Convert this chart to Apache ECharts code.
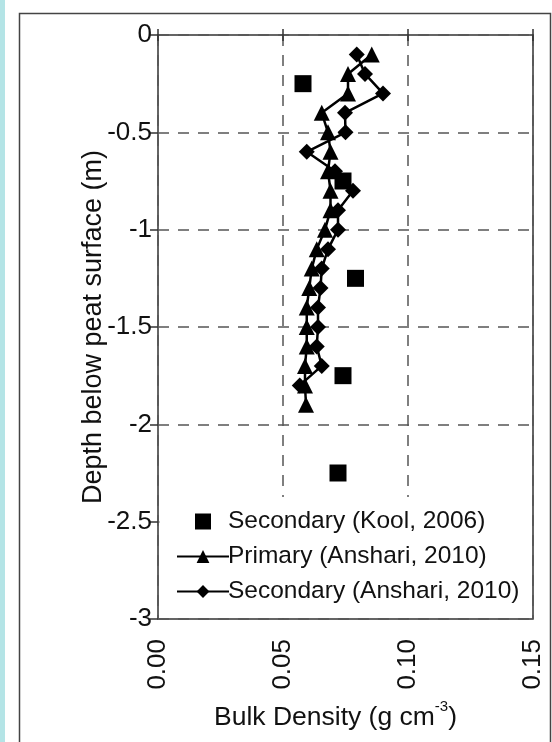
<!DOCTYPE html>
<html>
<head>
<meta charset="utf-8">
<script src="https://cdn.jsdelivr.net/npm/echarts@6/dist/echarts.min.js"></script>
<style>
html,body{margin:0;padding:0;background:#fff;}
#chart{width:552px;height:742px;}
</style>
</head>
<body>
<div id="chart"></div>
<script>
// Secondary (Kool, 2006)
const koolDepth = [-0.25, -0.75, -1.25, -1.75, -2.25];
const koolDensity = [0.058, 0.074, 0.079, 0.074, 0.072];
// Primary (Anshari, 2010)
const primaryDepth = [-0.1,-0.2,-0.3,-0.4,-0.5,-0.6,-0.7,-0.8,-0.9,-1.0,-1.1,-1.2,-1.3,-1.4,-1.5,-1.6,-1.7,-1.8,-1.9];
const primaryDensity = [0.0855,0.076,0.076,0.0655,0.068,0.069,0.068,0.069,0.069,0.0668,0.0635,0.0615,0.0605,0.0595,0.0595,0.0595,0.0588,0.0588,0.0592];
// Secondary (Anshari, 2010)
const secondaryDepth = [-0.1,-0.2,-0.3,-0.4,-0.5,-0.6,-0.7,-0.8,-0.9,-1.0,-1.1,-1.2,-1.3,-1.4,-1.5,-1.6,-1.7,-1.8];
const secondaryDensity = [0.0795,0.0828,0.090,0.0748,0.075,0.0595,0.0708,0.078,0.072,0.072,0.068,0.0655,0.065,0.064,0.064,0.0635,0.0655,0.0567];
const seriesNames = ['Secondary (Kool, 2006)', 'Primary (Anshari, 2010)', 'Secondary (Anshari, 2010)'];

const pair = (xs, ys) => xs.map((x, i) => [x, ys[i]]);
const FONT = 'Liberation Sans, Arial, sans-serif';
const TICK = {color: '#333', width: 1.5};
const GRIDLINE = {color: '#555', type: [11, 9], width: 1.5};

const chart = echarts.init(document.getElementById('chart'), null, {renderer: 'canvas'});
chart.setOption({
  backgroundColor: '#fff',
  animation: false,
  graphic: [
    {type: 'rect', shape: {x: 0, y: 0, width: 5, height: 742}, style: {fill: '#b4e4e6'}, z: 0},
    {type: 'rect', shape: {x: 19.5, y: 13.5, width: 531, height: 740}, style: {fill: 'none', stroke: '#444', lineWidth: 1.5}, z: 0},
    // white area behind the legend (hides the grid lines there)
    {type: 'rect', shape: {x: 159.5, y: 497, width: 372.5, height: 121}, style: {fill: '#fff'}, z: 1}
  ],
  grid: {left: 158, right: 19, top: 35, bottom: 123, show: true, borderColor: '#333', borderWidth: 1.5, backgroundColor: 'transparent'},
  legend: {
    orient: 'vertical',
    left: 171,
    top: 504,
    itemWidth: 52,
    itemHeight: 16,
    itemGap: 10,
    z: 6,
    textStyle: {fontFamily: FONT, fontSize: 24.5, color: '#111', padding: [0,0,0,-6]},
    data: [
      {name: seriesNames[0], icon: 'path://M0,0L10,0L10,10L0,10Z'},
      {name: seriesNames[1]},
      {name: seriesNames[2]}
    ]
  },
  xAxis: [{
    // labels, ticks and title
    type: 'value', min: 0, max: 0.15, interval: 0.05, position: 'bottom', z: 5,
    axisLine: {show: false},
    axisTick: {show: true, inside: true, length: 6, lineStyle: TICK},
    splitLine: {show: false},
    axisLabel: {rotate: 90, margin: 20, fontFamily: FONT, fontSize: 26, color: '#111',
      formatter: v => v.toFixed(2)},
    name: '{a|Bulk Density (g cm}{s|-3}{a|)}',
    nameLocation: 'middle', nameGap: 80, nameMoveOverlap: false,
    nameTextStyle: {padding: [0, 20, 0, 0], rich: {
      a: {fontFamily: FONT, fontSize: 26.5, color: '#111', verticalAlign: 'bottom', lineHeight: 32},
      s: {fontFamily: FONT, fontSize: 15, color: '#111', verticalAlign: 'top', lineHeight: 32, padding: [0,0,15,0]}
    }}
  }, {
    type: 'value', min: 0, max: 0.15, interval: 0.05, position: 'top', z: 5,
    axisLine: {show: false}, axisLabel: {show: false}, splitLine: {show: false},
    axisTick: {show: true, inside: true, length: 6, lineStyle: TICK}
  }, {
    // dashed grid lines only
    type: 'value', min: 0, max: 0.15, interval: 0.05, position: 'bottom', z: 0,
    axisLine: {show: false}, axisLabel: {show: false}, axisTick: {show: false},
    splitLine: {show: true, lineStyle: GRIDLINE}
  }],
  yAxis: [{
    type: 'value', min: -3, max: 0, interval: 0.5, position: 'left', z: 5,
    axisLine: {show: false},
    axisTick: {show: true, inside: false, length: 8, lineStyle: TICK},
    splitLine: {show: false},
    axisLabel: {margin: 6, fontFamily: FONT, fontSize: 26, color: '#111',
      formatter: v => String(v)},
    name: 'Depth below peat surface (m)',
    nameLocation: 'middle', nameGap: 51, nameRotate: 90, nameMoveOverlap: false,
    nameTextStyle: {fontFamily: FONT, fontSize: 27, color: '#111'}
  }, {
    type: 'value', min: -3, max: 0, interval: 0.5, position: 'right', z: 5,
    axisLine: {show: false}, axisLabel: {show: false}, splitLine: {show: false},
    axisTick: {show: true, inside: true, length: 6, lineStyle: TICK}
  }, {
    type: 'value', min: -3, max: 0, interval: 0.5, position: 'left', z: 0,
    axisLine: {show: false}, axisLabel: {show: false}, axisTick: {show: false},
    splitLine: {show: true, lineStyle: GRIDLINE}
  }],
  series: [
    {
      name: seriesNames[0], type: 'scatter', symbol: 'rect', symbolSize: 17,
      itemStyle: {color: '#000', opacity: 1}, data: pair(koolDensity, koolDepth), z: 3
    },
    {
      name: seriesNames[1], type: 'line', symbol: 'triangle', symbolSize: 16,
      lineStyle: {color: '#000', width: 2.5}, itemStyle: {color: '#000', borderWidth: 0},
      data: pair(primaryDensity, primaryDepth), z: 4
    },
    {
      name: seriesNames[2], type: 'line', symbol: 'diamond', symbolSize: 16,
      lineStyle: {color: '#000', width: 2.5}, itemStyle: {color: '#000', borderWidth: 0},
      data: pair(secondaryDensity, secondaryDepth), z: 4
    }
  ]
});
</script>
</body>
</html>
